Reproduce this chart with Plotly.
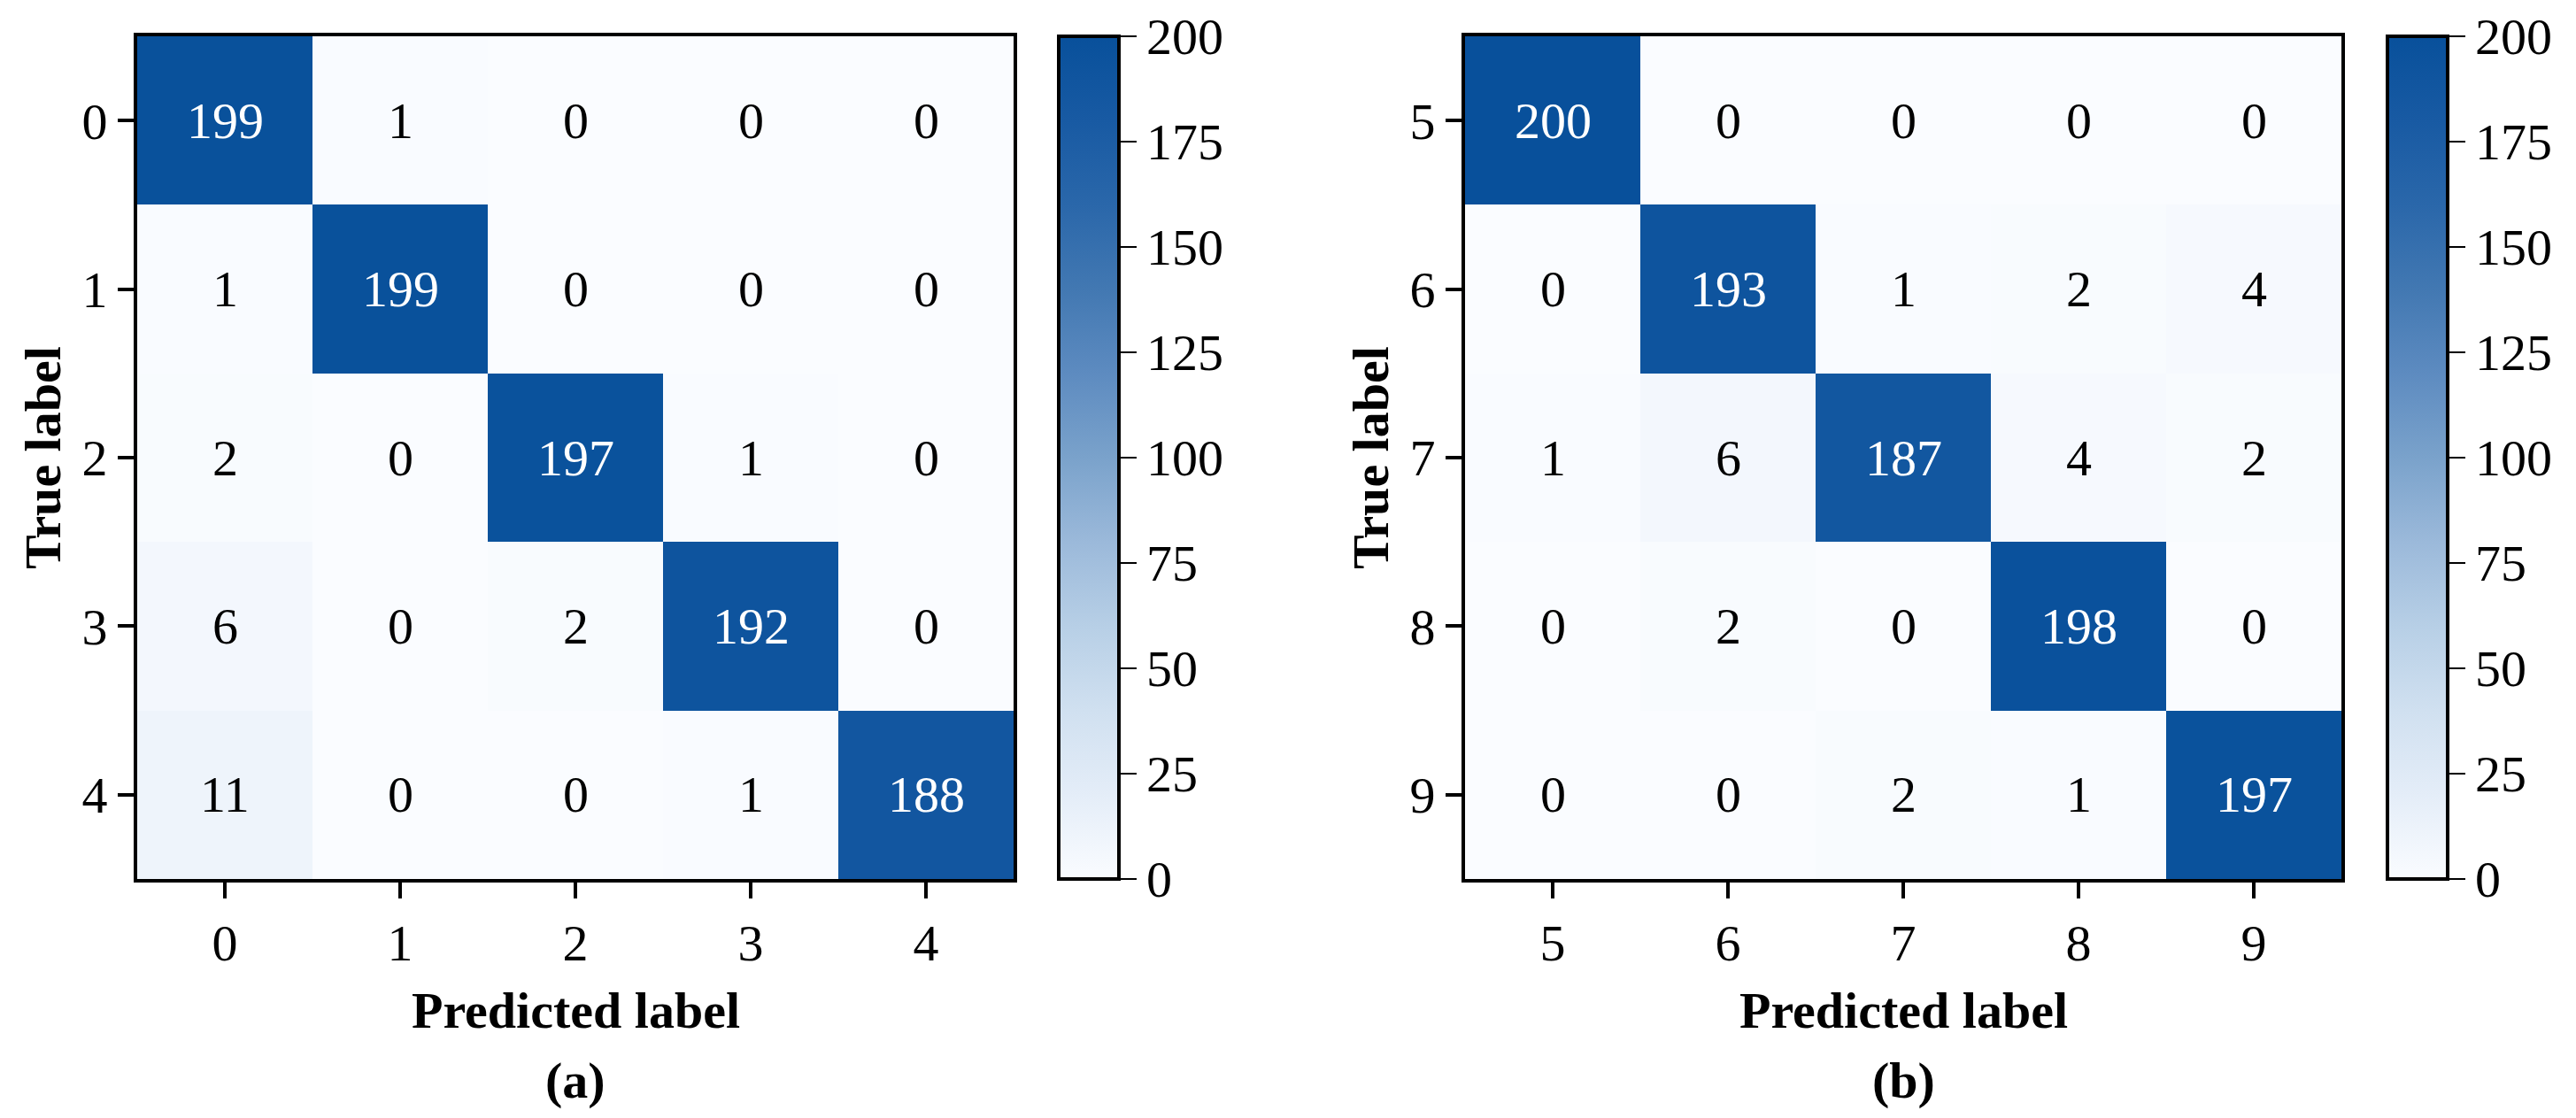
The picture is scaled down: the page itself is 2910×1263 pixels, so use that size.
import plotly.graph_objects as go

W, H = 2910, 1263
FONT = "Liberation Serif"

labels_a = ["0", "1", "2", "3", "4"]
labels_b = ["5", "6", "7", "8", "9"]
cm_a = [[199, 1, 0, 0, 0],
        [1, 199, 0, 0, 0],
        [2, 0, 197, 1, 0],
        [6, 0, 2, 192, 0],
        [11, 0, 0, 1, 188]]
cm_b = [[200, 0, 0, 0, 0],
        [0, 193, 1, 2, 4],
        [1, 6, 187, 4, 2],
        [0, 2, 0, 198, 0],
        [0, 0, 2, 1, 197]]
cbar_ticks = [0, 25, 50, 75, 100, 125, 150, 175, 200]
panel_tags = ["(a)", "(b)"]
x_title = "Predicted label"
y_title = "True label"

colorscale = [
    [0.0, "rgb(250,252,255)"],
    [0.1, "rgb(228,237,248)"],
    [0.2, "rgb(208,224,240)"],
    [0.3, "rgb(183,207,230)"],
    [0.4, "rgb(155,185,218)"],
    [0.5, "rgb(122,162,203)"],
    [0.6, "rgb(93,139,192)"],
    [0.7, "rgb(66,120,178)"],
    [0.8, "rgb(42,103,170)"],
    [0.9, "rgb(24,90,163)"],
    [1.0, "rgb(8,80,155)"],
]

# layout geometry (pixels)
panels = [
    dict(left=147, right=1137, cb_left=1188, ylab_x=41),
    dict(left=1647, right=2637, cb_left=2689, ylab_x=1541),
]
top, bottom = 33, 985
FS = 58

fig = go.Figure()
annotations = []
for k, (labels, cm, geo) in enumerate(zip([labels_a, labels_b], [cm_a, cm_b], panels)):
    xa = "x" if k == 0 else "x2"
    ya = "y" if k == 0 else "y2"
    fig.add_trace(go.Heatmap(
        z=cm, x=labels, y=labels, xaxis=xa, yaxis=ya,
        zmin=0, zmax=200, colorscale=colorscale, xgap=0, ygap=0,
        hoverinfo="skip",
        colorbar=dict(
            x=geo["cb_left"] / W, xanchor="left", xpad=0,
            y=1 - (top + bottom) / 2 / H, yanchor="middle", ypad=0,
            len=bottom - top, lenmode="pixels",
            thickness=68, thicknessmode="pixels",
            outlinewidth=4, outlinecolor="black",
            ticks="outside", ticklen=18, tickwidth=2, tickcolor="black",
            tickvals=cbar_ticks,
            tickfont=dict(family=FONT, size=FS, color="black"),
        ),
    ))
    # category axes: annotation positions given as category indices
    for i, row in enumerate(cm):
        for j, v in enumerate(row):
            annotations.append(dict(
                x=j, y=i, xref=xa, yref=ya, text=str(v),
                showarrow=False,
                font=dict(family=FONT, size=FS, color="white" if v > 100 else "black"),
            ))
    cx = (geo["left"] + geo["right"]) / 2 / W
    annotations.append(dict(
        x=cx, y=1 - 1133 / H, xref="paper", yref="paper", text="<b>" + x_title + "</b>",
        showarrow=False, xanchor="center", yanchor="middle",
        font=dict(family=FONT, size=FS, color="black")))
    annotations.append(dict(
        x=cx, y=1 - 1212 / H, xref="paper", yref="paper", text="<b>" + panel_tags[k] + "</b>",
        showarrow=False, xanchor="center", yanchor="middle",
        font=dict(family=FONT, size=FS, color="black")))
    annotations.append(dict(
        x=geo["ylab_x"] / W, y=1 - (top + bottom) / 2 / H, xref="paper", yref="paper",
        text="<b>" + y_title + "</b>", textangle=-90,
        showarrow=False, xanchor="center", yanchor="middle",
        font=dict(family=FONT, size=FS, color="black")))

axis_common = dict(
    showline=True, mirror=True, linewidth=4, linecolor="black",
    ticks="outside", ticklen=18, tickwidth=4, tickcolor="black",
    showgrid=False, zeroline=False, type="category",
    tickfont=dict(family=FONT, size=FS, color="black"),
)

fig.update_layout(
    width=W, height=H,
    margin=dict(l=0, r=0, t=0, b=0),
    paper_bgcolor="white", plot_bgcolor="white",
    showlegend=False,
    xaxis=dict(axis_common, domain=[panels[0]["left"] / W, panels[0]["right"] / W],
               anchor="y", range=[-0.5, 4.5]),
    yaxis=dict(axis_common, domain=[1 - bottom / H, 1 - top / H],
               anchor="x", range=[4.5, -0.5]),
    xaxis2=dict(axis_common, domain=[panels[1]["left"] / W, panels[1]["right"] / W],
                anchor="y2", range=[-0.5, 4.5]),
    yaxis2=dict(axis_common, domain=[1 - bottom / H, 1 - top / H],
                anchor="x2", range=[4.5, -0.5]),
    annotations=annotations,
)

fig.write_html("out.html")
